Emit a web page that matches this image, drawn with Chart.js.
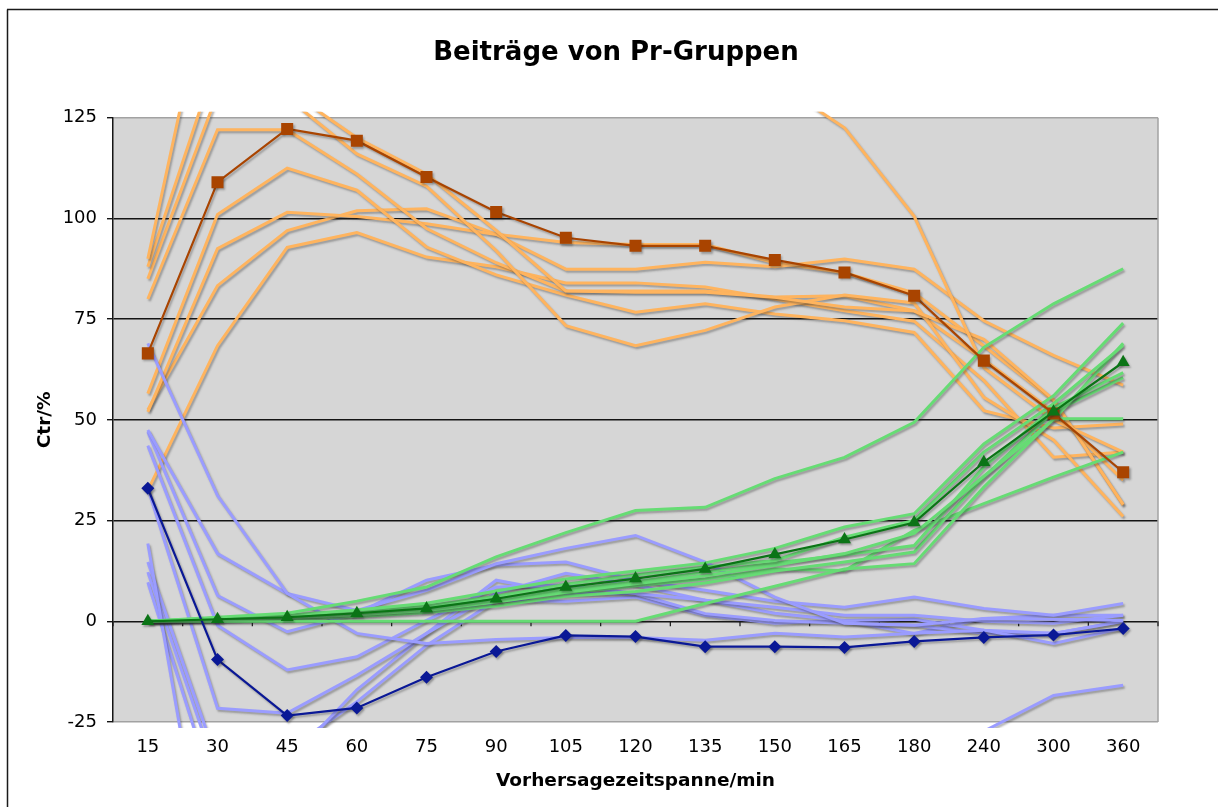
<!DOCTYPE html>
<html>
<head>
<meta charset="utf-8">
<script src="https://cdn.jsdelivr.net/npm/chart.js@4/dist/chart.umd.min.js"></script>
<style>
html,body{margin:0;padding:0;background:#fff;overflow:hidden}
canvas{display:block}
</style>
</head>
<body>
<canvas id="c" width="1218" height="807"></canvas>
<script>
// ---- data ----
const categories = ['15','30','45','60','75','90','105','120','135','150','165','180','240','300','360'];
const yTickMin = -25, yTickMax = 125, yTickStep = 25;

const mainOrange = [66.5, 109, 122.2, 119.3, 110.3, 101.6, 95.2, 93.2, 93.2, 89.7, 86.6, 80.8, 64.7, 51.6, 37];
const mainGreen  = [0, 0.5, 1, 2, 3.2, 5.6, 8.5, 10.6, 13, 16.6, 20.3, 24.5, 39.5, 52, 64.3];
const mainBlue   = [33, -9.5, -23.4, -21.5, -13.9, -7.5, -3.5, -3.8, -6.3, -6.3, -6.5, -5, -4, -3.4, -1.8];

const lightOrange = [
  [90, 170, 185, 178, 168, 158, 150, 145, 140, 134, 122.5, 100.5, 63, 50, 42],
  [88, 140, 132, 120, 111, 97, 82, 81.7, 81.7, 80.4, 78, 77, 70, 55, 29],
  [85, 131, 130, 116, 108, 92, 73.4, 68.4, 72.2, 78, 81, 79, 55.6, 45, 26],
  [80, 122, 122, 111, 97.5, 89, 82, 82, 82, 80.5, 80.8, 77.1, 65, 52, 35],
  [56.5, 101, 112.5, 107, 92.9, 86, 81, 76.7, 78.8, 76.3, 74.6, 71.7, 52.3, 48, 49],
  [52, 92.5, 101.5, 100.5, 98.7, 96, 87.4, 87.4, 89.1, 88, 89.9, 87.4, 74.6, 66, 58.6],
  [52.5, 83.3, 97, 101.9, 102.4, 96.1, 94, 93.5, 93.5, 89, 86.5, 81.5, 68.4, 54.8, 28.8],
  [32.5, 68.4, 92.8, 96.5, 90.4, 88, 84, 84, 83, 80, 77.1, 74.5, 59.8, 40.7, 42]
];

const lightGreen = [
  [0, 1, 2, 5, 8.5, 16, 22, 27.5, 28.3, 35.4, 40.7, 49.4, 68, 78.8, 87.5],
  [0, 0, 0, 0, 0, 0, 0, 0, 4.4, 8.7, 13, 14.3, 33.3, 50.3, 50.3],
  [0, 0.8, 1.5, 2.8, 4.5, 7.5, 10.5, 12.5, 14.5, 18.1, 23.4, 26.7, 44, 56, 74],
  [0, 0.6, 1.3, 2.3, 3.8, 6.2, 9.2, 11.5, 13.5, 15.1, 20.9, 25, 42, 54, 68.5],
  [0, 0.4, 0.9, 1.6, 2.7, 4.8, 7.2, 9.3, 11.3, 13.9, 16.8, 21.8, 36, 50, 69],
  [0, 0.5, 1.1, 2, 3.2, 5.4, 7.8, 9.8, 12.2, 14.5, 16.5, 18.8, 38.3, 53, 61.7],
  [0, 0.2, 0.6, 1.2, 2.2, 3.8, 6.2, 7.4, 9.5, 12.5, 14.7, 17.2, 35.8, 52, 60.5],
  [0, 0.3, 0.8, 1.7, 3, 5, 7, 8.8, 10.5, 13, 12.6, 22.6, 29.2, 35.8, 42]
];

const lightBlue = [
  [69, 31.2, 6.9, -3, -5.5, -4.5, -4, -4, -4.7, -3, -3.9, -3, -2.2, -5.5, -1.7],
  [47.5, 16.8, 6.9, 2.7, 7.7, 14.3, 18.1, 21.3, 14.7, 6, -0.5, -1, 0.7, 0.5, 0.2],
  [47, 6.4, -2.6, 2, 10.2, 14, 14.7, 10.2, 7.7, 5, 3.5, 6, 3.2, 1.5, 4.4],
  [43.6, -1, -12.1, -8.8, 0.25, 8.5, 9, 6.9, 5.2, 3.5, 1.5, 1.5, 0, -0.5, 1.5],
  [33, -21.6, -22.8, -13.4, -3, 7, 11.9, 9, 5.2, 2, 0.2, 0.5, -2.2, -3, 0],
  [19.3, -80, -75, -65, -60, -55, -50, -48, -46, -45, -44, -40, -27.3, -18.4, -15.9],
  [14.7, -35, -35, -17, -3, 10.2, 6.9, 6.9, 1.9, 0.2, -0.5, -1, -3, -3, 0],
  [12.2, -38, -32, -20, -6, 5.2, 5, 6, 1.5, -0.5, 0.2, -3, 0.7, 1.5, 1.5],
  [9.7, -45, -60, -60, -55, -50, -45, -42, -40, -40, -40, -40, -38, -36, -35]
];

// ---- styles ----
const FONT = "'DejaVu Sans', Verdana, sans-serif";
const COL = {
  orange: '#a94400', orangeLight: '#ffb45e',
  green: '#0b7416', greenLight: '#66dc74',
  blue: '#0a1896', blueLight: '#9a9cff',
  plotBg: '#d6d6d6', plotBorder: '#a2a2a2', grid: '#151515'
};

function lightSet(arr, color, order) {
  return arr.map(d => ({
    data: d, borderColor: color, backgroundColor: color, borderWidth: 3,
    pointRadius: 0, pointHoverRadius: 0, tension: 0, order: order, clip: 6
  }));
}

const datasets = [
  ...lightSet(lightOrange, COL.orangeLight, 5),
  ...lightSet(lightBlue, COL.blueLight, 4),
  ...lightSet(lightGreen, COL.greenLight, 3),
  { data: mainOrange, borderColor: COL.orange, backgroundColor: COL.orange, borderWidth: 2.2,
    pointStyle: 'rect', pointRadius: 8.5, pointBorderWidth: 0, tension: 0, order: 2, clip: 6 },
  { data: mainBlue, borderColor: COL.blue, backgroundColor: COL.blue, borderWidth: 2.2,
    pointStyle: 'rectRot', pointRadius: 6.5, pointBorderWidth: 0, tension: 0, order: 1, clip: 6 },
  { data: mainGreen, borderColor: COL.green, backgroundColor: COL.green, borderWidth: 2.2,
    pointStyle: 'triangle', pointRadius: 7.5, pointBorderWidth: 0, tension: 0, order: 0, clip: 6 }
];

const decor = {
  id: 'decor',
  beforeDraw(chart) {
    const {ctx, chartArea: a} = chart;
    ctx.save();
    ctx.fillStyle = '#fff';
    ctx.fillRect(0, 0, chart.width, chart.height);
    // outer frame (top and left edges visible)
    ctx.strokeStyle = '#1a1a1a';
    ctx.lineWidth = 1.5;
    ctx.beginPath();
    ctx.moveTo(7, 9.5); ctx.lineTo(chart.width, 9.5);
    ctx.moveTo(7.5, 9.5); ctx.lineTo(7.5, chart.height);
    ctx.stroke();
    // plot background
    ctx.fillStyle = COL.plotBg;
    ctx.fillRect(a.left, a.top, a.right - a.left, a.bottom - a.top);
    ctx.restore();
  },
  beforeDatasetsDraw(chart) {
    const {ctx, chartArea: a, scales: {x, y}} = chart;
    ctx.save();
    // right border of plot area
    ctx.strokeStyle = COL.plotBorder;
    ctx.lineWidth = 1.5;
    ctx.beginPath();
    ctx.moveTo(a.right, a.top); ctx.lineTo(a.right, a.bottom);
    ctx.stroke();
    // category axis at value 0 with tick marks between categories
    const y0 = y.getPixelForValue(0);
    const n = categories.length;
    ctx.strokeStyle = COL.grid;
    ctx.lineWidth = 1.2;
    ctx.beginPath();
    for (let i = 0; i <= n; i++) {
      let px;
      if (i === 0) px = a.left;
      else if (i === n) px = a.right;
      else px = (x.getPixelForTick(i - 1) + x.getPixelForTick(i)) / 2;
      ctx.moveTo(px, y0); ctx.lineTo(px, y0 + 5);
    }
    ctx.stroke();
    ctx.restore();
  },
  beforeDatasetDraw(chart) {
    const ctx = chart.ctx;
    ctx.shadowColor = 'rgba(40,40,40,0.35)';
    ctx.shadowBlur = 2;
    ctx.shadowOffsetX = 1.5;
    ctx.shadowOffsetY = 2;
  },
  afterDatasetDraw(chart) {
    const ctx = chart.ctx;
    ctx.shadowColor = 'rgba(0,0,0,0)';
    ctx.shadowBlur = 0;
    ctx.shadowOffsetX = 0;
    ctx.shadowOffsetY = 0;
  }
};

new Chart(document.getElementById('c'), {
  type: 'line',
  data: { labels: categories, datasets },
  options: {
    responsive: false,
    animation: false,
    events: [],
    layout: { padding: { top: 10, left: 14, right: 0, bottom: 0 } },
    plugins: {
      legend: { display: false },
      tooltip: { enabled: false },
      title: {
        display: true,
        text: 'Beiträge von Pr-Gruppen',
        color: '#000',
        font: { family: FONT, size: 26, weight: 'bold' },
        padding: { top: 28, bottom: 48.5 }
      }
    },
    scales: {
      x: {
        type: 'category',
        offset: true,
        grid: { display: false, drawTicks: false },
        border: { display: false },
        ticks: { color: '#000', font: { family: FONT, size: 18 }, padding: 15, maxRotation: 0, autoSkip: false },
        title: { display: true, text: 'Vorhersagezeitspanne/min', color: '#000',
                 font: { family: FONT, size: 18.5, weight: 'bold' }, padding: { top: 0, bottom: 15 } },
        afterFit(scale) { scale.height = 85; }
      },
      y: {
        min: yTickMin, max: yTickMax,
        ticks: { stepSize: yTickStep, color: '#000', font: { family: FONT, size: 18 }, padding: 10 },
        grid: {
          color: c => (c.tick && (c.tick.value === yTickMax || c.tick.value === yTickMin)) ? COL.plotBorder : COL.grid,
          lineWidth: 1.4, tickLength: 6, tickColor: COL.grid, drawTicks: true
        },
        border: { display: true, color: '#151515', width: 1.5 },
        title: { display: true, text: 'Ctr/%', color: '#000',
                 font: { family: FONT, size: 18.5, weight: 'bold' }, padding: { top: 20, bottom: 0 } },
        afterFit(scale) { scale.width = 99; }
      },
      // empty right-hand margin axis (keeps plot right edge where the reference has it)
      yRight: {
        position: 'right', min: yTickMin, max: yTickMax,
        ticks: { display: false }, grid: { display: false, drawTicks: false }, border: { display: false },
        afterFit(scale) { scale.width = 60; }
      }
    }
  },
  plugins: [decor]
});
</script>
</body>
</html>
